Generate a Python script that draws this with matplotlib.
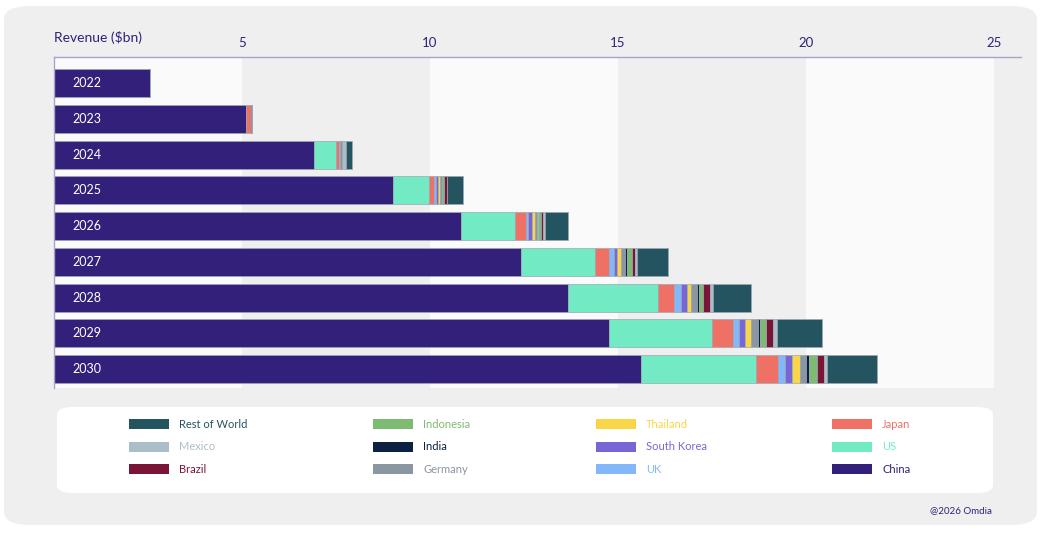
import numpy as np
import matplotlib
matplotlib.use("Agg")
import matplotlib.pyplot as plt
from matplotlib.patches import FancyBboxPatch

plt.rcParams['font.family'] = ['Lato', 'DejaVu Sans']

# Revenue ($bn) per year and country
years = ['2022', '2023', '2024', '2025', '2026', '2027', '2028', '2029', '2030']
china = [2.55, 5.12, 6.92, 9.02, 10.82, 12.43, 13.67, 14.77, 15.61]
us = [0, 0, 0.57, 0.95, 1.44, 1.97, 2.39, 2.72, 3.06]
japan = [0, 0.11, 0.08, 0.15, 0.29, 0.36, 0.43, 0.57, 0.59]
uk = [0, 0, 0.03, 0.035, 0.06, 0.13, 0.19, 0.16, 0.18]
south_korea = [0, 0, 0, 0.05, 0.10, 0.08, 0.15, 0.15, 0.19]
thailand = [0, 0, 0, 0.06, 0.08, 0.11, 0.12, 0.18, 0.21]
germany = [0, 0, 0.05, 0.045, 0.05, 0.12, 0.16, 0.17, 0.16]
india = [0, 0, 0, 0.02, 0.02, 0.05, 0.04, 0.07, 0.09]
indonesia = [0, 0, 0, 0.05, 0.08, 0.12, 0.12, 0.15, 0.20]
brazil = [0, 0, 0, 0.07, 0.07, 0.07, 0.17, 0.18, 0.18]
mexico = [0, 0, 0.11, 0.01, 0.06, 0.07, 0.08, 0.11, 0.10]
rest_of_world = [0, 0.04, 0.16, 0.41, 0.59, 0.81, 1.01, 1.21, 1.31]

x_ticks = [5, 10, 15, 20, 25]

# stacking order, left to right
series = [
    ('China', china, '#33207A'),
    ('US', us, '#72EBC5'),
    ('Japan', japan, '#EF7166'),
    ('UK', uk, '#82B8F9'),
    ('South Korea', south_korea, '#7866D7'),
    ('Thailand', thailand, '#F9D548'),
    ('Germany', germany, '#8A96A1'),
    ('India', india, '#0C2142'),
    ('Indonesia', indonesia, '#7DBA72'),
    ('Brazil', brazil, '#7A1538'),
    ('Mexico', mexico, '#A9BEC8'),
    ('Rest of World', rest_of_world, '#245460'),
]
text_colors = {'China': '#33207A', 'Rest of World': '#245460', 'India': '#0C2142'}

purple = '#33207A'
bg = '#EFEFEF'

fig = plt.figure(figsize=(10.46, 5.36), dpi=100)
fig.patch.set_facecolor('white')

# grey rounded panel behind everything
fig.patches.append(FancyBboxPatch((4/1046, 11/536), 1033/1046, 519/536,
                                  boxstyle="round,pad=0,rounding_size=0.025",
                                  transform=fig.transFigure, facecolor=bg,
                                  edgecolor='none', zorder=-2))
# white legend box
fig.patches.append(FancyBboxPatch((57/1046, 43/536), 936/1046, 86/536,
                                  boxstyle="round,pad=0,rounding_size=0.015",
                                  transform=fig.transFigure, facecolor='white',
                                  edgecolor='none', zorder=-1))

ax = fig.add_axes([54/1046, 148/536, 967/1046, 331/536])
ax.set_facecolor('none')

# alternating bands
for lo in [0, 10, 20]:
    ax.axvspan(lo, lo + 5, color='#FAFAFA', zorder=0, lw=0)

y = np.arange(len(years))
left = np.zeros(len(years))
handles = {}
for name, vals, col in series:
    vals = np.array(vals)
    b = ax.barh(y, vals, left=left, height=0.78, color=col,
                edgecolor='#9EA7B3', linewidth=0.5, zorder=2, label=name)
    handles[name] = b
    left += vals

for i, yr in enumerate(years):
    ax.text(0.5, i, yr, color='white', va='center', ha='left', fontsize=9, zorder=3)

ax.set_xlim(0, 25.72)
ax.set_ylim(len(years) - 1 + 0.53, -0.73)
ax.set_yticks([])
ax.xaxis.tick_top()
ax.set_xticks(x_ticks)
ax.set_xticklabels([str(t) for t in x_ticks], color=purple, fontsize=9.5)
ax.tick_params(axis='x', length=0, pad=6)
for s in ['right', 'bottom']:
    ax.spines[s].set_visible(False)
ax.spines['top'].set_color('#A9A3CC')
ax.spines['left'].set_color('#A9A3CC')
ax.spines['top'].set_linewidth(1)
ax.spines['left'].set_linewidth(1)

fig.text(54/1046, 1 - 37/536, 'Revenue ($bn)', color=purple, fontsize=10,
         ha='left', va='center')

# legend, reversed order, filled column by column
order = [s[0] for s in series][::-1]
leg = fig.legend([handles[n] for n in order], order, ncol=4, frameon=False,
                 loc='center', bbox_to_anchor=(520/1046, 1 - 447/536),
                 fontsize=8, handlelength=3.6, handleheight=1.0,
                 handletextpad=0.9, columnspacing=11.3, labelspacing=1.05)
colors = {n: c for n, _, c in series}
for t in leg.get_texts():
    t.set_color(text_colors.get(t.get_text(), colors[t.get_text()]))
for h in leg.legend_handles:
    h.set_linewidth(0)

fig.text(992/1046, 1 - 511/536, '@2026 Omdia', color=purple, fontsize=7,
         ha='right', va='center')

plt.savefig('out.png', dpi=100, facecolor=fig.get_facecolor())
